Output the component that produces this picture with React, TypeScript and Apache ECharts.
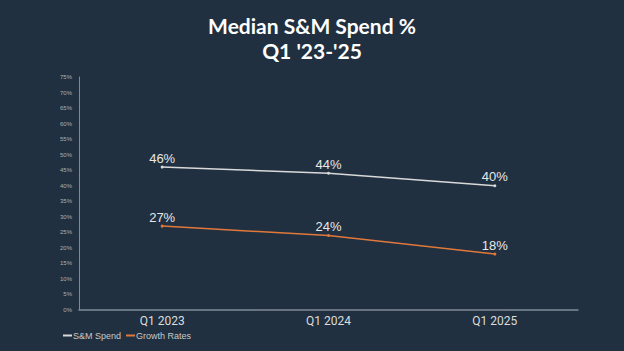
import React, { useEffect, useRef } from "react";
import * as echarts from "echarts";

const categories = ["Q1 2023", "Q1 2024", "Q1 2025"];
const smSpend = [46, 44, 40];
const growthRates = [27, 24, 18];
const titleLines = ["Median S&M Spend %", "Q1 '23-'25"];

export default function App() {
  const ref = useRef<HTMLDivElement>(null);
  useEffect(() => {
    if (!ref.current) return;
    const chart = echarts.init(ref.current, null, { renderer: "svg" });
    const labelCfg = {
      show: true,
      position: "top" as const,
      distance: 1,
      formatter: "{c}%",
      color: "#e8e8e8",
      fontSize: 13,
      fontFamily: "'Liberation Sans', sans-serif",
    };
    const titleStyle = {
      color: "#ffffff",
      fontSize: 21,
      fontWeight: "bold",
      lineHeight: 24,
      fontFamily: "Lato, sans-serif",
    };
    chart.setOption({
      animation: false,
      backgroundColor: "#203040",
      title: [
        { text: titleLines[0], left: "center", top: 13, padding: 0, textStyle: titleStyle },
        { text: titleLines[1], left: "center", top: 38, padding: 0, textStyle: titleStyle },
      ],
      legend: {
        left: 58,
        top: 326,
        itemWidth: 9,
        itemHeight: 2,
        itemGap: 5,
        icon: "rect",
        textStyle: { color: "#c8c8c8", fontSize: 9, padding: [0, 0, 0, -4], fontFamily: "'Liberation Sans', sans-serif" },
        data: ["S&M Spend", "Growth Rates"],
      },
      grid: { left: 79, right: 46, top: 77, bottom: 41 },
      xAxis: {
        type: "category",
        data: categories,
        boundaryGap: true,
        axisLine: { lineStyle: { color: "#7f8a96", width: 1.5 } },
        axisTick: { alignWithLabel: true, length: 3, lineStyle: { color: "#7f8a96" } },
        axisLabel: { color: "#dcdcdc", fontSize: 12, margin: 5, fontFamily: "Roboto, sans-serif" },
      },
      yAxis: {
        type: "value",
        min: 0,
        max: 75,
        interval: 5,
        axisLine: { show: true, lineStyle: { color: "#7f8a96" } },
        axisTick: { show: false },
        splitLine: { show: false },
        axisLabel: { color: "#a8b0b8", fontSize: 6, formatter: "{value}%", margin: 7 },
      },
      series: [
        {
          name: "S&M Spend",
          type: "line",
          data: smSpend,
          color: "#d9d9d9",
          lineStyle: { width: 1.5, color: "#d9d9d9" },
          symbol: "circle",
          symbolSize: 3,
          label: labelCfg,
        },
        {
          name: "Growth Rates",
          type: "line",
          data: growthRates,
          color: "#e0783a",
          lineStyle: { width: 1.5, color: "#e0783a" },
          symbol: "circle",
          symbolSize: 3,
          label: labelCfg,
        },
      ],
    });
    return () => chart.dispose();
  }, []);
  return <div ref={ref} style={{ width: 624, height: 351, position: "absolute", left: 0, top: 0 }} />;
}
